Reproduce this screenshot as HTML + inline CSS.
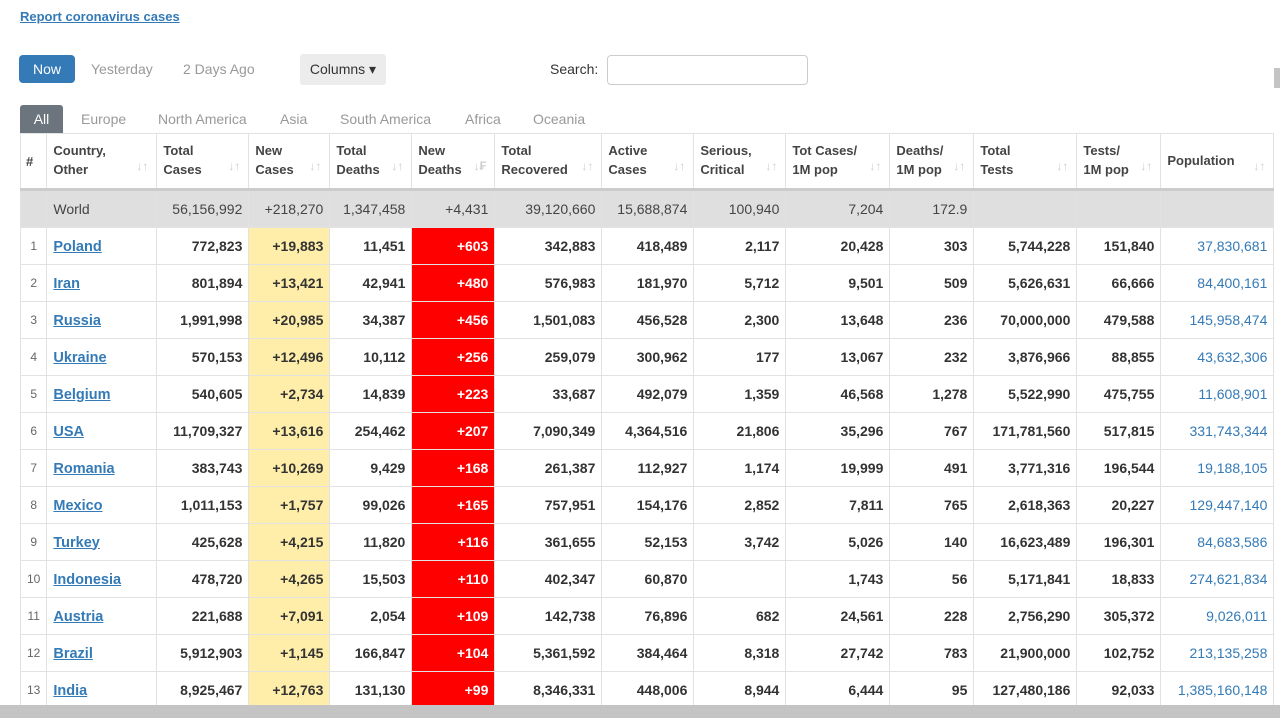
<!DOCTYPE html>
<html><head><meta charset="utf-8"><style>
body{margin:0;width:1280px;height:718px;overflow:hidden;background:#fff;font-family:"Liberation Sans",Arial,sans-serif;position:relative}
a{color:#337ab7}
.rep{position:absolute;left:20px;top:9px;font-size:13px;font-weight:bold;text-decoration:underline;color:#337ab7}
.now{position:absolute;left:19px;top:55px;width:56px;height:28px;background:#337ab7;color:#fff;border-radius:4px;font-size:14px;line-height:28px;text-align:center}
.t{position:absolute;top:61px;font-size:14px;color:#999}
.col{position:absolute;left:300px;top:54px;width:86px;height:31px;background:#ececec;border-radius:3px;font-size:14px;line-height:31px;text-align:center;color:#333}
.srch{position:absolute;left:550px;top:61px;font-size:14px;color:#333}
.inp{position:absolute;left:607px;top:55px;width:199px;height:28px;border:1px solid #ccc;border-radius:4px}
.all{position:absolute;left:20px;top:105px;width:43px;height:28px;background:#6c757d;color:#fff;font-size:14px;line-height:28px;text-align:center;border-radius:3px 3px 0 0}
.tab{position:absolute;top:111px;font-size:14px;color:#999}
table{position:absolute;left:20px;top:133px;border-collapse:collapse;table-layout:fixed;font-size:14px}
td,th{border:1px solid #e2e2e2;padding:0 6px;height:36px;overflow:hidden;white-space:nowrap}
th{height:52px;text-align:left;font-size:13px;color:#444;font-weight:bold;line-height:19px;position:relative;vertical-align:middle;border-bottom:3px solid #ccc;white-space:normal;padding-bottom:2px}
th span{position:absolute;right:8px;bottom:12px;color:#ccc;font-size:12px}
td{text-align:right;font-weight:bold;color:#333}
td.n{text-align:center;font-weight:normal;color:#666;font-size:12px}
td.c{text-align:left}
td.c a{font-weight:bold;text-decoration:underline;font-size:14.5px}
tr.w td{background:#dfdfdf;font-weight:normal;color:#444}
td.y{background:#ffeeaa}
td.r{background:#ff0000;color:#fff}
td.p{color:#337ab7;font-weight:normal}
.hs{position:absolute;left:0;top:705px;width:1280px;height:13px;background:#c4c4c4}
.vs{position:absolute;left:1274px;top:68px;width:6px;height:20px;background:#c4c4c4}
</style></head><body>
<a class="rep">Report coronavirus cases</a>
<div class="now">Now</div>
<div class="t" style="left:91px">Yesterday</div>
<div class="t" style="left:183px">2 Days Ago</div>
<div class="col">Columns ▾</div>
<div class="srch">Search:</div><div class="inp"></div>
<div class="all">All</div>
<div class="tab" style="left:81px">Europe</div>
<div class="tab" style="left:158px">North America</div>
<div class="tab" style="left:280px">Asia</div>
<div class="tab" style="left:340px">South America</div>
<div class="tab" style="left:465px">Africa</div>
<div class="tab" style="left:533px">Oceania</div>
<table>
<colgroup><col style="width:26px"><col style="width:110px"><col style="width:92px"><col style="width:81px"><col style="width:82px"><col style="width:83px"><col style="width:107px"><col style="width:92px"><col style="width:92px"><col style="width:104px"><col style="width:84px"><col style="width:103px"><col style="width:84px"><col style="width:113px"></colgroup>
<tr><th style="padding:0 5px">#</th><th>Country,<br>Other<span>↓↑</span></th><th>Total<br>Cases<span>↓↑</span></th><th>New<br>Cases<span>↓↑</span></th><th>Total<br>Deaths<span>↓↑</span></th><th>New<br>Deaths<span>↓₣</span></th><th>Total<br>Recovered<span>↓↑</span></th><th>Active<br>Cases<span>↓↑</span></th><th>Serious,<br>Critical<span>↓↑</span></th><th>Tot Cases/<br>1M pop<span>↓↑</span></th><th>Deaths/<br>1M pop<span>↓↑</span></th><th>Total<br>Tests<span>↓↑</span></th><th>Tests/<br>1M pop<span>↓↑</span></th><th>Population<span>↓↑</span></th></tr>
<tr class="w"><td></td><td class="c">World</td><td>56,156,992</td><td>+218,270</td><td>1,347,458</td><td>+4,431</td><td>39,120,660</td><td>15,688,874</td><td>100,940</td><td>7,204</td><td>172.9</td><td></td><td></td><td></td></tr>
<tr><td class="n">1</td><td class="c"><a>Poland</a></td><td>772,823</td><td class="y">+19,883</td><td>11,451</td><td class="r">+603</td><td>342,883</td><td>418,489</td><td>2,117</td><td>20,428</td><td>303</td><td>5,744,228</td><td>151,840</td><td class="p">37,830,681</td></tr>
<tr><td class="n">2</td><td class="c"><a>Iran</a></td><td>801,894</td><td class="y">+13,421</td><td>42,941</td><td class="r">+480</td><td>576,983</td><td>181,970</td><td>5,712</td><td>9,501</td><td>509</td><td>5,626,631</td><td>66,666</td><td class="p">84,400,161</td></tr>
<tr><td class="n">3</td><td class="c"><a>Russia</a></td><td>1,991,998</td><td class="y">+20,985</td><td>34,387</td><td class="r">+456</td><td>1,501,083</td><td>456,528</td><td>2,300</td><td>13,648</td><td>236</td><td>70,000,000</td><td>479,588</td><td class="p">145,958,474</td></tr>
<tr><td class="n">4</td><td class="c"><a>Ukraine</a></td><td>570,153</td><td class="y">+12,496</td><td>10,112</td><td class="r">+256</td><td>259,079</td><td>300,962</td><td>177</td><td>13,067</td><td>232</td><td>3,876,966</td><td>88,855</td><td class="p">43,632,306</td></tr>
<tr><td class="n">5</td><td class="c"><a>Belgium</a></td><td>540,605</td><td class="y">+2,734</td><td>14,839</td><td class="r">+223</td><td>33,687</td><td>492,079</td><td>1,359</td><td>46,568</td><td>1,278</td><td>5,522,990</td><td>475,755</td><td class="p">11,608,901</td></tr>
<tr><td class="n">6</td><td class="c"><a>USA</a></td><td>11,709,327</td><td class="y">+13,616</td><td>254,462</td><td class="r">+207</td><td>7,090,349</td><td>4,364,516</td><td>21,806</td><td>35,296</td><td>767</td><td>171,781,560</td><td>517,815</td><td class="p">331,743,344</td></tr>
<tr><td class="n">7</td><td class="c"><a>Romania</a></td><td>383,743</td><td class="y">+10,269</td><td>9,429</td><td class="r">+168</td><td>261,387</td><td>112,927</td><td>1,174</td><td>19,999</td><td>491</td><td>3,771,316</td><td>196,544</td><td class="p">19,188,105</td></tr>
<tr><td class="n">8</td><td class="c"><a>Mexico</a></td><td>1,011,153</td><td class="y">+1,757</td><td>99,026</td><td class="r">+165</td><td>757,951</td><td>154,176</td><td>2,852</td><td>7,811</td><td>765</td><td>2,618,363</td><td>20,227</td><td class="p">129,447,140</td></tr>
<tr><td class="n">9</td><td class="c"><a>Turkey</a></td><td>425,628</td><td class="y">+4,215</td><td>11,820</td><td class="r">+116</td><td>361,655</td><td>52,153</td><td>3,742</td><td>5,026</td><td>140</td><td>16,623,489</td><td>196,301</td><td class="p">84,683,586</td></tr>
<tr><td class="n">10</td><td class="c"><a>Indonesia</a></td><td>478,720</td><td class="y">+4,265</td><td>15,503</td><td class="r">+110</td><td>402,347</td><td>60,870</td><td></td><td>1,743</td><td>56</td><td>5,171,841</td><td>18,833</td><td class="p">274,621,834</td></tr>
<tr><td class="n">11</td><td class="c"><a>Austria</a></td><td>221,688</td><td class="y">+7,091</td><td>2,054</td><td class="r">+109</td><td>142,738</td><td>76,896</td><td>682</td><td>24,561</td><td>228</td><td>2,756,290</td><td>305,372</td><td class="p">9,026,011</td></tr>
<tr><td class="n">12</td><td class="c"><a>Brazil</a></td><td>5,912,903</td><td class="y">+1,145</td><td>166,847</td><td class="r">+104</td><td>5,361,592</td><td>384,464</td><td>8,318</td><td>27,742</td><td>783</td><td>21,900,000</td><td>102,752</td><td class="p">213,135,258</td></tr>
<tr><td class="n">13</td><td class="c"><a>India</a></td><td>8,925,467</td><td class="y">+12,763</td><td>131,130</td><td class="r">+99</td><td>8,346,331</td><td>448,006</td><td>8,944</td><td>6,444</td><td>95</td><td>127,480,186</td><td>92,033</td><td class="p">1,385,160,148</td></tr>
</table>
<div class="vs"></div>
<div class="hs"></div>
</body></html>
